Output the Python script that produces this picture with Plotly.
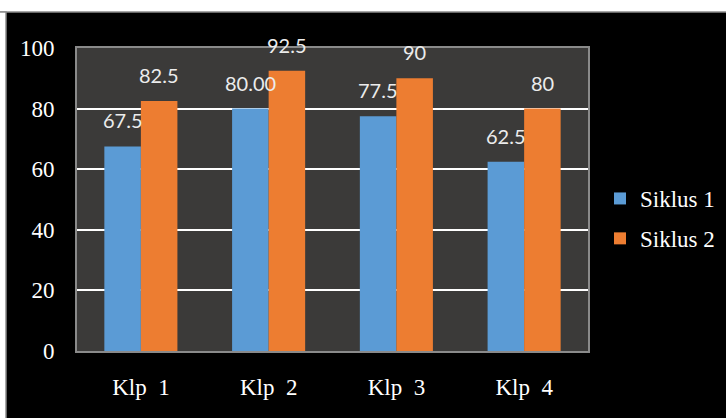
import plotly.graph_objects as go

# Scores per group for the two cycles
groups = ["Klp  1", "Klp  2", "Klp  3", "Klp  4"]
siklus1 = [67.5, 80.0, 77.5, 62.5]
siklus2 = [82.5, 92.5, 90.0, 80.0]
siklus1_labels = ["67.5", "80.00", "77.5", "62.5"]
siklus2_labels = ["82.5", "92.5", "90", "80"]
y_ticks = [0, 20, 40, 60, 80, 100]

BLUE = "#5B9BD5"
ORANGE = "#ED7D31"
W, H = 726, 418
L, R, T, B = 77, 138, 48, 67
PW, PH = W - L - R, H - T - B

fig = go.Figure()
fig.add_trace(go.Bar(name="Siklus 1", x=groups, y=siklus1, marker_color=BLUE,
                     marker_line_width=0, legendgroup="a"))
fig.add_trace(go.Bar(name="Siklus 2", x=groups, y=siklus2, marker_color=ORANGE,
                     marker_line_width=0, legendgroup="b"))

half = PW / len(groups) * (1 - 0.428) / 4
annotations = []
for vals, labels, shift in ((siklus1, siklus1_labels, -half), (siklus2, siklus2_labels, half)):
    for g, v, t in zip(groups, vals, labels):
        annotations.append(dict(x=g, y=v, text=t, showarrow=False, xshift=shift, yshift=26,
                                xanchor="center", yanchor="middle",
                                font=dict(family="Lato", size=20, color="#ececec")))

def px_x(p):
    return (p - L) / PW

def px_y(p):
    return (H - B - p) / PH

shapes = [
    # white margin strips framing the black panel
    dict(type="rect", xref="paper", yref="paper", x0=px_x(-5), x1=px_x(W + 5),
         y0=px_y(12), y1=px_y(-5), fillcolor="white", line=dict(color="#8c8c8c", width=1.5),
         layer="above"),
    dict(type="rect", xref="paper", yref="paper", x0=px_x(-5), x1=px_x(6),
         y0=px_y(H + 5), y1=px_y(12), fillcolor="white", line=dict(color="#8c8c8c", width=1.5),
         layer="above"),
]

fig.update_layout(
    width=W, height=H,
    margin=dict(l=L, r=R, t=T, b=B, autoexpand=False),
    paper_bgcolor="#000000",
    plot_bgcolor="#3b3a39",
    barmode="group", bargap=0.428, bargroupgap=0,
    annotations=annotations,
    shapes=shapes,
    showlegend=True,
    legend=dict(x=px_x(600), y=px_y(177), xanchor="left", yanchor="top",
                font=dict(family="Liberation Serif", size=23, color="#ffffff"),
                bgcolor="rgba(0,0,0,0)", traceorder="grouped", tracegroupgap=7),
    xaxis=dict(showgrid=False, showline=True, linecolor="#8a8a8a", linewidth=2, mirror=True,
               tickfont=dict(family="Liberation Serif", size=23, color="#ffffff"),
               ticks="", ticklabelstandoff=14),
    yaxis=dict(range=[0, 100], tickvals=y_ticks, showgrid=True, gridcolor="#ffffff", gridwidth=2,
               zeroline=False, showline=True, linecolor="#8a8a8a", linewidth=2, mirror=True,
               tickfont=dict(family="Liberation Serif", size=23, color="#ffffff"),
               ticks="", ticklabelstandoff=16),
)

fig.write_html("out.html")
